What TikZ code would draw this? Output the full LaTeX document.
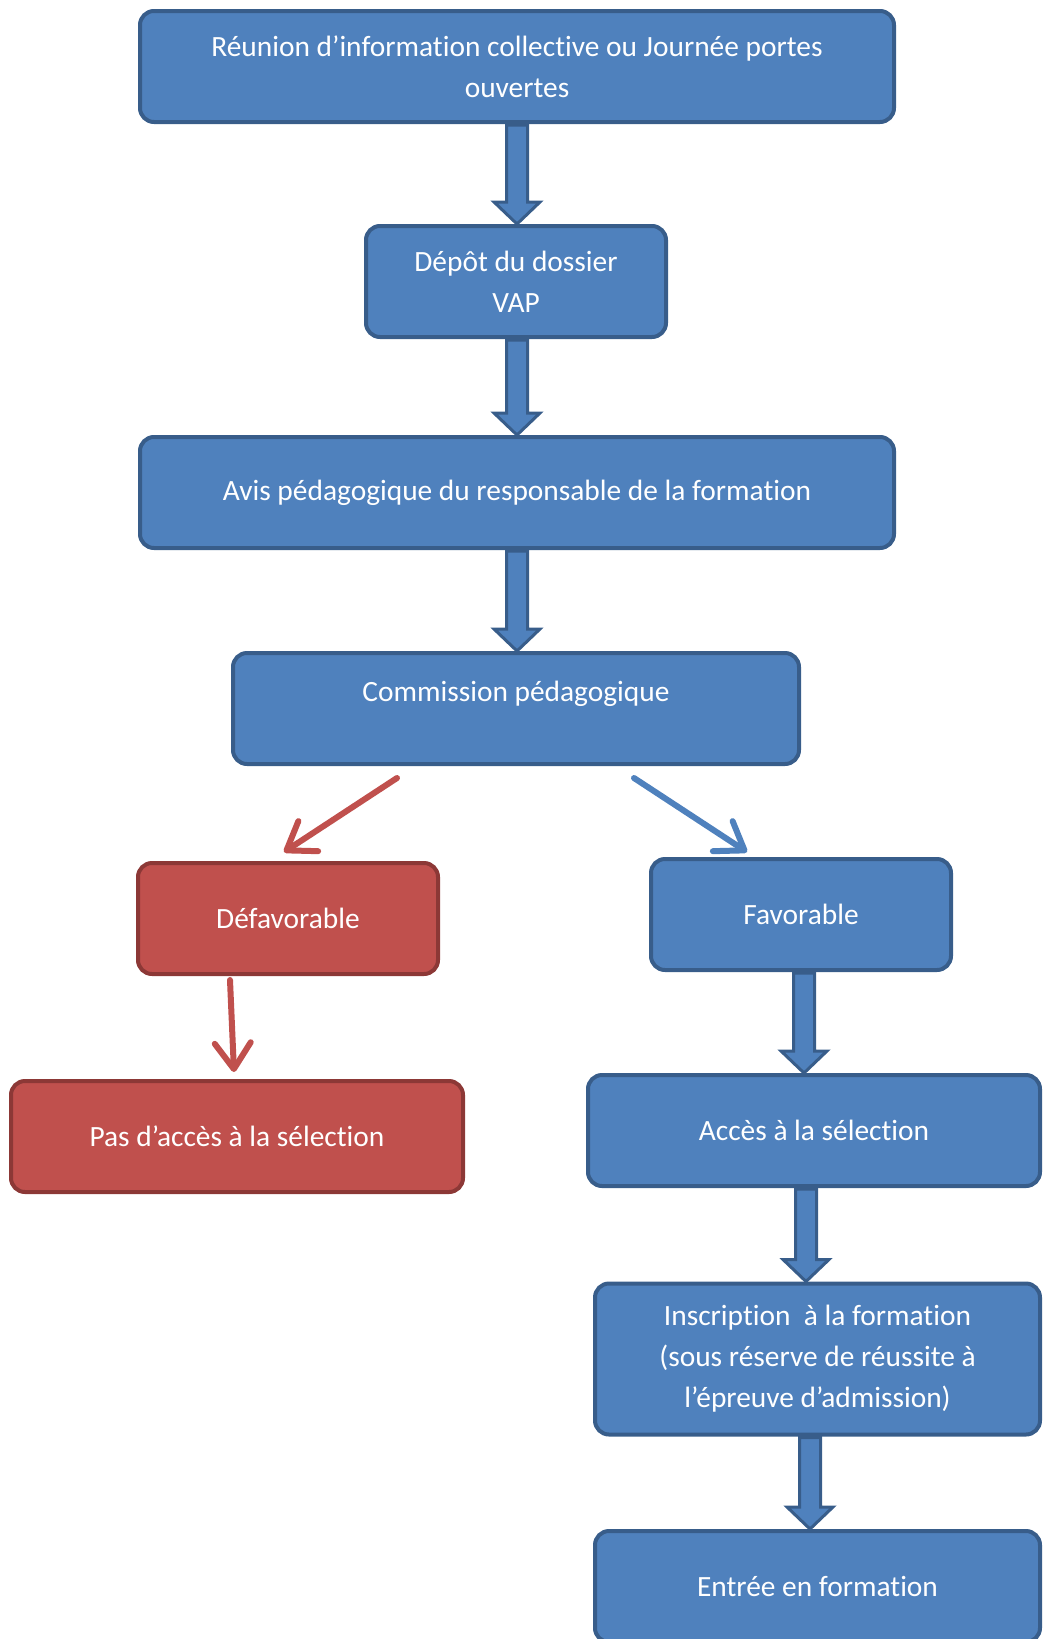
\documentclass[tikz,border=0pt]{standalone}
\usepackage{fontspec}
\setmainfont{Carlito}[Ligatures=NoCommon]
\usetikzlibrary{arrows.meta,calc}
\definecolor{bfill}{HTML}{4F81BD}
\definecolor{bline}{HTML}{385D8A}
\definecolor{rfill}{HTML}{C0504D}
\definecolor{rline}{HTML}{8C3836}
\tikzset{
  box/.style={draw=bline, fill=bfill, line width=4pt, rounded corners=14pt,
    text=white, font=\fontsize{29.4}{41}\selectfont, align=center,
    inner sep=0pt, minimum height=111pt},
  redbox/.style={box, draw=rline, fill=rfill},
  blockar/.style={draw=bline, fill=bfill, line width=3pt, line join=miter},
  thinblue/.style={draw=bfill, line width=6pt, line cap=round,
    -{Straight Barb[round,length=26pt,width=36pt]}},
  thinred/.style={thinblue, draw=rfill},
}
\newcommand\blockarrow[3]{%
  \path[blockar] let \p1=(#1.south), \p2=(#2.north) in
    (#3pt-10.5pt,\y1-1pt) -- (#3pt+10.5pt,\y1-1pt) -- (#3pt+10.5pt,\y2+22pt)
    -- (#3pt+23pt,\y2+22pt) -- (#3pt,\y2) -- (#3pt-23pt,\y2+22pt)
    -- (#3pt-10.5pt,\y2+22pt) -- cycle;}
\begin{document}
\begin{tikzpicture}[x=1pt,y=-1pt]
\useasboundingbox (0,0) rectangle (1043,1639);
\node[box, minimum width=754pt] (top) at (517,66.5)
  {Réunion d’information collective ou Journée portes\\ouvertes};
\node[box, minimum width=300pt] (depot) at (516,281.5) {Dépôt du dossier\\VAP};
\node[box, minimum width=754pt] (avis) at (517,492.5)
  {Avis pédagogique du responsable de la formation};
\node[box, minimum width=566pt, text height=20pt, text depth=34pt] (comm) at (516,708.5)
  {Commission pédagogique};
\node[redbox, minimum width=300pt] (def) at (288,918.5) {Défavorable};
\node[box, minimum width=300pt] (fav) at (801,914.5) {Favorable};
\node[redbox, minimum width=452pt] (pas) at (237,1136.5) {Pas d’accès à la sélection};
\node[box, minimum width=452pt] (acces) at (814,1130.5) {Accès à la sélection};
\node[box, minimum width=445pt, minimum height=151pt] (insc) at (817.5,1359)
  {Inscription~ à la formation\\(sous réserve de réussite à\\l’épreuve d’admission)};
\node[box, minimum width=445pt] (entree) at (817.5,1586.5) {Entrée en formation};

\blockarrow{top}{depot}{517}
\blockarrow{depot}{avis}{517}
\blockarrow{avis}{comm}{517}
\blockarrow{fav}{acces}{804}
\blockarrow{acces}{insc}{806}
\blockarrow{insc}{entree}{810}

\coordinate (rs) at (397,778);
\coordinate (re) at (284,852);
\coordinate (bs) at (634,778);
\coordinate (be) at (747,852);
\coordinate (vs) at (230,980);
\coordinate (ve) at (234,1072);
\draw[thinred] (rs) -- (re);
\draw[thinblue] (bs) -- (be);
\draw[thinred] (vs) -- (ve);
\end{tikzpicture}
\end{document}
